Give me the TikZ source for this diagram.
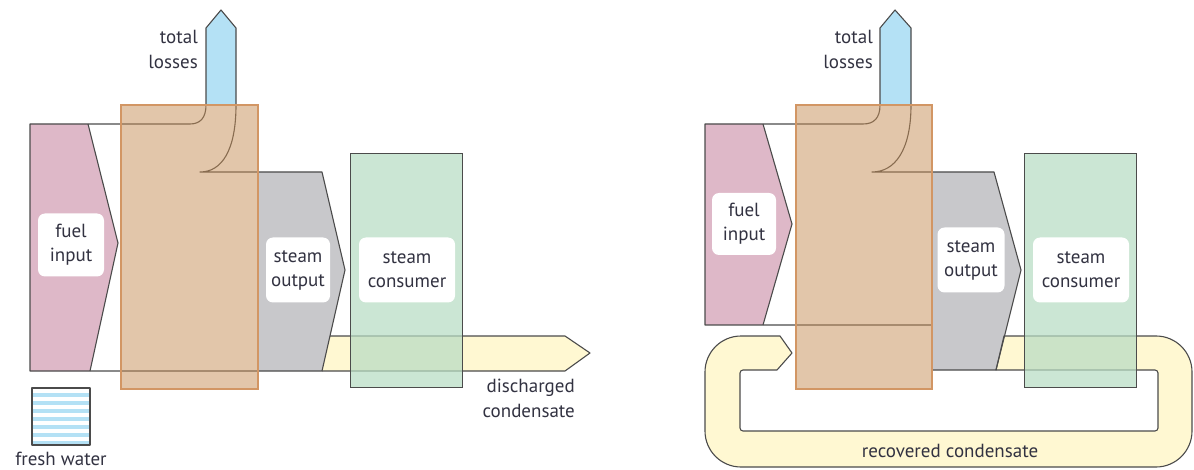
\documentclass[tikz,border=0pt]{standalone}
\usepackage{fontspec}
\setmainfont{PT Sans}
\definecolor{pinkf}{RGB}{222,184,200}
\definecolor{tanf}{RGB}{197,141,85}
\definecolor{tanb}{RGB}{210,150,100}
\definecolor{grayf}{RGB}{200,200,203}
\definecolor{bluef}{RGB}{180,225,245}
\definecolor{greenf}{RGB}{183,220,195}
\definecolor{yellf}{RGB}{255,248,210}
\definecolor{linec}{RGB}{75,75,75}
\definecolor{txt}{RGB}{50,50,65}
\begin{document}
\begin{tikzpicture}[x=1pt,y=-1pt,
  flow/.style={draw=linec, line width=1.1pt, line join=round},
  boiler/.style={fill=tanf, fill opacity=0.5, draw=tanb, line width=1.6pt},
  consumer/.style={fill=greenf, fill opacity=0.72, draw=linec, line width=1pt},
  lbl/.style={fill=white, rounded corners=7pt, align=center, inner sep=0pt, text=txt, font=\fontsize{19}{24}\selectfont},
  plain/.style={text=txt, inner sep=0pt, font=\fontsize{19}{25}\selectfont}]
\useasboundingbox (0,0) rectangle (1194,470);

% ================= LEFT DIAGRAM =================
\fill[pinkf] (30,124) -- (88,124) -- (118,243) -- (90,371) -- (30,371) -- cycle;
\fill[grayf] (258,172) -- (322,172) -- (345,270) -- (322,371) -- (258,371) -- cycle;
\fill[bluef] (206,105) -- (206,28) -- (221,10) -- (236,28) -- (236,105) -- cycle;
\fill[yellf] (330,336) -- (565,336) -- (590,353) -- (565,371) -- (322,371) -- cycle;
\draw[flow] (330,336) -- (565,336) -- (590,353) -- (565,371) -- (322,371);
\draw[flow] (88,124) -- (118,243) -- (90,371);
\draw[flow] (30,124) -- (190,124) .. controls (200,124) and (206,118) .. (206,105)
  -- (206,28) -- (221,10) -- (236,28) -- (236,105)
  .. controls (236,150) and (222,172) .. (200,172)
  -- (322,172) -- (345,270) -- (322,371) -- (30,371) -- cycle;
\path[boiler] (121,105) rectangle (258,389);
\path[consumer] (350,154) rectangle (462,387);

% fresh water
\fill[white] (32,388) rectangle (90,445);
\foreach \i in {0,...,6} {\fill[bluef] (32,392.7+8*\i) rectangle (90,396.7+8*\i);}
\draw[flow] (32,388) rectangle (90,445);

\node[lbl, minimum width=66pt, minimum height=63pt] (fuelL) at (71,245) {fuel\\input};
\node[lbl, minimum width=64pt, minimum height=65pt] (steamL) at (298,270) {steam\\output};
\node[lbl, minimum width=96pt, minimum height=65pt] (consL) at (407,270) {steam\\consumer};
\node[plain, align=right, anchor=east] (lossL) at (198,49) {total\\losses};
\node[plain, align=right, anchor=east] (discL) at (575,398) {discharged\\condensate};
\node[plain, anchor=center] (fresh) at (61,459) {fresh water};

% ================= RIGHT DIAGRAM =================
\fill[pinkf] (705,124) -- (763,124) -- (792,224) -- (763,325) -- (705,325) -- cycle;
\fill[grayf] (932,172) -- (994,172) -- (1021,270) -- (996,370) -- (932,370) -- cycle;
\fill[bluef] (880,105) -- (880,28) -- (895,10) -- (911,28) -- (911,105) -- cycle;
\path[flow, fill=yellf] (1004,336) [rounded corners=36pt] -- (1192,336) -- (1192,467) -- (705,467) -- (705,336) [sharp corners]
  -- (780,336) -- (792,353) -- (777,370) [rounded corners=3pt] -- (740,370) -- (740,431) -- (1158,431) -- (1158,370) [sharp corners] -- (996,370) -- cycle;
\draw[flow] (763,124) -- (792,224) -- (763,325);
\draw[flow] (932,325) -- (705,325) -- (705,124) -- (863,124) .. controls (874,124) and (880,118) .. (880,105)
  -- (880,28) -- (895,10) -- (911,28) -- (911,105)
  .. controls (911,150) and (895,172) .. (872,172)
  -- (994,172) -- (1021,270) -- (996,370) -- (932,370);
\path[boiler] (796,105) rectangle (932,389);
\path[consumer] (1024,154) rectangle (1136,387);

\node[lbl, minimum width=64pt, minimum height=62pt] (fuelR) at (744,224) {fuel\\input};
\node[lbl, minimum width=67pt, minimum height=65pt] (steamR) at (971,260) {steam\\output};
\node[lbl, minimum width=96pt, minimum height=65pt] (consR) at (1081,270) {steam\\consumer};
\node[plain, align=right, anchor=east] (lossR) at (873,49) {total\\losses};
\node[plain, anchor=center] (recov) at (950,451) {recovered condensate};
\end{tikzpicture}
\end{document}
